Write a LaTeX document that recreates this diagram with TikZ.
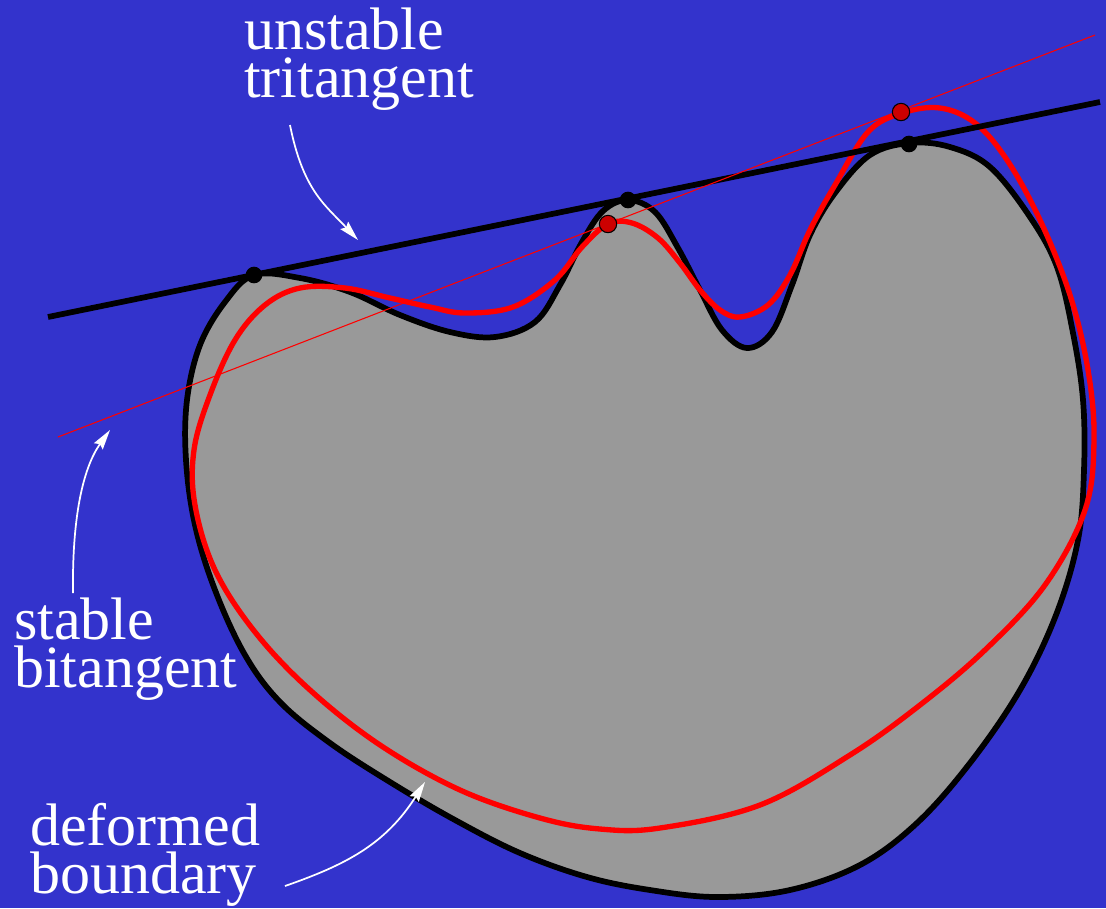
\documentclass[tikz,border=0pt]{standalone}
\usepackage{fontspec}
\setmainfont{Liberation Serif}
\usetikzlibrary{arrows.meta}
\definecolor{bgblue}{HTML}{3333CC}
\definecolor{shapegray}{HTML}{999999}
\definecolor{curvered}{HTML}{FF0000}
\definecolor{dotred}{HTML}{CC0000}
\tikzset{
  label text/.style={text=white, font=\fontsize{45}{36}\selectfont, align=left, inner sep=0pt, anchor=base west},
  pointer/.style={white, line width=1.3pt, -{Stealth[length=15pt,width=8pt,inset=2pt]}},
  blackdot/.style={circle, fill=black, inner sep=0pt, minimum size=12.5pt},
  reddot/.style={circle, fill=dotred, draw=black, line width=0.8pt, inner sep=0pt, minimum size=13pt},
}
\begin{document}
\begin{tikzpicture}[x=0.75pt,y=-0.75pt]
\useasboundingbox (0,0) rectangle (1106,908);
\fill[bgblue] (0,0) rectangle (1106,908);
% original boundary
\draw[fill=shapegray, line width=4.3pt, line join=round] plot[smooth cycle, tension=0.6] coordinates {
(254,275) (300,278) (350,292) (400,315) (450,332) (495,337) (535,322) (560,285) (582,242) (603,211) (628,200) (655,212) (678,248) (700,290) (722,330) (747,348) (772,332) (792,285) (810,235) (835,193) (870,155) (910,143) (950,147) (990,167) (1030,217) (1057,267) (1073,333) (1083,400) (1084,470) (1078,540) (1056,615) (1020,690) (970,763) (917,823) (860,865) (790,890) (717,897) (650,890) (587,877) (520,853) (455,820) (390,782) (330,743) (280,702) (245,655) (215,590) (195,525) (186,460) (187,400) (200,345) (225,302)};
% deformed boundary
\draw[curvered, line width=4pt, line join=round] plot[smooth cycle, tension=0.6] coordinates {
(300,288) (345,288) (390,298) (430,307) (465,313) (513,307) (555,280) (582,247) (608,224) (632,223) (658,238) (680,263) (700,290) (720,310) (740,317) (768,305) (790,275) (810,230) (835,185) (868,132) (902,113) (940,108) (975,123) (1007,160) (1040,220) (1070,295) (1088,370) (1094,440) (1085,510) (1045,585) (985,650) (920,705) (850,755) (760,805) (660,828) (600,829) (540,818) (460,790) (380,745) (310,690) (255,632) (215,570) (195,505) (194,450) (210,395) (235,340) (265,305)};
% tangent lines
\coordinate (tl1) at (48,317);
\coordinate (tl2) at (1100,102);
\coordinate (bl1) at (58,437);
\coordinate (bl2) at (1095,35);
\draw[black, line width=4.3pt] (tl1) -- (tl2);
\draw[curvered, line width=0.8pt] (bl1) -- (bl2);
% tangency points
\node[blackdot] (t1) at (254,275) {};
\node[blackdot] (t2) at (628,200) {};
\node[blackdot] (t3) at (909,144) {};
\node[reddot] (b1) at (608,224) {};
\node[reddot] (b2) at (901,112) {};
% labels (anchored at the baseline of the last line)
\node[label text] (lab1) at (244,97) {unstable\\tritangent};
\node[label text] (lab2) at (14,687) {stable\\bitangent};
\node[label text] (lab3) at (30,893) {deformed\\boundary};
% arrows
\coordinate (a1s) at (290,125);
\coordinate (a1e) at (358,240);
\coordinate (a2s) at (73,593);
\coordinate (a2e) at (110,430);
\coordinate (a3s) at (285,886);
\coordinate (a3e) at (425,782);
\draw[pointer] (a1s) .. controls (303,190) and (325,205) .. (a1e);
\draw[pointer] (a2s) .. controls (72,510) and (85,465) .. (a2e);
\draw[pointer] (a3s) .. controls (345,865) and (385,845) .. (a3e);
\end{tikzpicture}
\end{document}
